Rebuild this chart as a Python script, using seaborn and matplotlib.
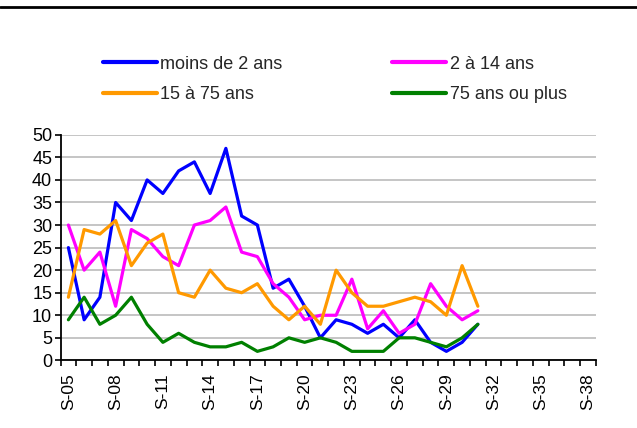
import numpy as np
import pandas as pd
import seaborn as sns
import matplotlib.pyplot as plt
from matplotlib.lines import Line2D

# weekly values, weeks S-05 .. S-31
weeks = list(range(5, 32))
moins_2 = [25, 9, 14, 35, 31, 40, 37, 42, 44, 37, 47, 32, 30, 16, 18, 12, 5, 9, 8, 6, 8, 5, 9, 4, 2, 4, 8]
de_2_14 = [30, 20, 24, 12, 29, 27, 23, 21, 30, 31, 34, 24, 23, 17, 14, 9, 10, 10, 18, 7, 11, 6, 8, 17, 12, 9, 11]
de_15_75 = [14, 29, 28, 31, 21, 26, 28, 15, 14, 20, 16, 15, 17, 12, 9, 12, 8, 20, 15, 12, 12, 13, 14, 13, 10, 21, 12]
plus_75 = [9, 14, 8, 10, 14, 8, 4, 6, 4, 3, 3, 4, 2, 3, 5, 4, 5, 4, 2, 2, 2, 5, 5, 4, 3, 5, 8]

groups = ["moins de 2 ans", "2 à 14 ans", "15 à 75 ans", "75 ans ou plus"]
colors = ["#0000ff", "#ff00ff", "#ff9900", "#008000"]
axis_weeks = list(range(5, 39))
label_weeks = list(range(5, 39, 3))

df = pd.DataFrame({"semaine": weeks, groups[0]: moins_2, groups[1]: de_2_14,
                   groups[2]: de_15_75, groups[3]: plus_75})
df = df.melt(id_vars="semaine", var_name="groupe", value_name="cas")

sns.set_theme(style="white")
plt.rcParams["font.family"] = ["Liberation Sans", "DejaVu Sans"]

fig = plt.figure(figsize=(6.37, 4.28), dpi=100)
ax = fig.add_axes([0.095, 0.158, 0.8406, 0.527])

sns.lineplot(data=df, x="semaine", y="cas", hue="groupe", hue_order=groups,
             palette=colors, linewidth=2.3, ax=ax, legend=False)

ax.set_xlim(axis_weeks[0] - 0.5, axis_weeks[-1] + 0.5)
ax.set_ylim(0, 50)
ax.set_yticks(range(0, 51, 5))
ax.yaxis.grid(True, color="#c0c0c0", linewidth=1.3)
ax.set_axisbelow(True)

ax.set_xticks(label_weeks)
ax.set_xticklabels([f"S-{w:02d}" for w in label_weeks], rotation=90)
ax.set_xticks([w - 0.5 for w in axis_weeks] + [axis_weeks[-1] + 0.5], minor=True)
ax.tick_params(axis="x", which="major", length=0, pad=9, labelsize=12.5, colors="black")
ax.tick_params(axis="x", which="minor", length=4, width=1.2, direction="out",
               bottom=True, color="black")
ax.tick_params(axis="y", length=4, width=1.2, direction="out", left=True,
               pad=2, labelsize=13, colors="black")

for side in ["top", "right"]:
    ax.spines[side].set_visible(False)
for side in ["left", "bottom"]:
    ax.spines[side].set_color("black")
    ax.spines[side].set_linewidth(1.3)
ax.set_xlabel("")
ax.set_ylabel("")

# legend filled row by row: (moins de 2, 2-14) then (15-75, 75+)
order = [0, 2, 1, 3]
handles = [Line2D([], [], color=colors[i], linewidth=3) for i in order]
fig.legend(handles, [groups[i] for i in order], ncol=2, loc="upper left",
           bbox_to_anchor=(0.161, 0.870), frameon=False, fontsize=13,
           handlelength=3.0, handletextpad=0.2, columnspacing=6.05,
           labelspacing=0.75, borderaxespad=0, borderpad=0)

fig.add_artist(Line2D([0, 1], [0.984, 0.984], color="black", linewidth=2,
                      transform=fig.transFigure))

fig.savefig("out.png", dpi=100)
